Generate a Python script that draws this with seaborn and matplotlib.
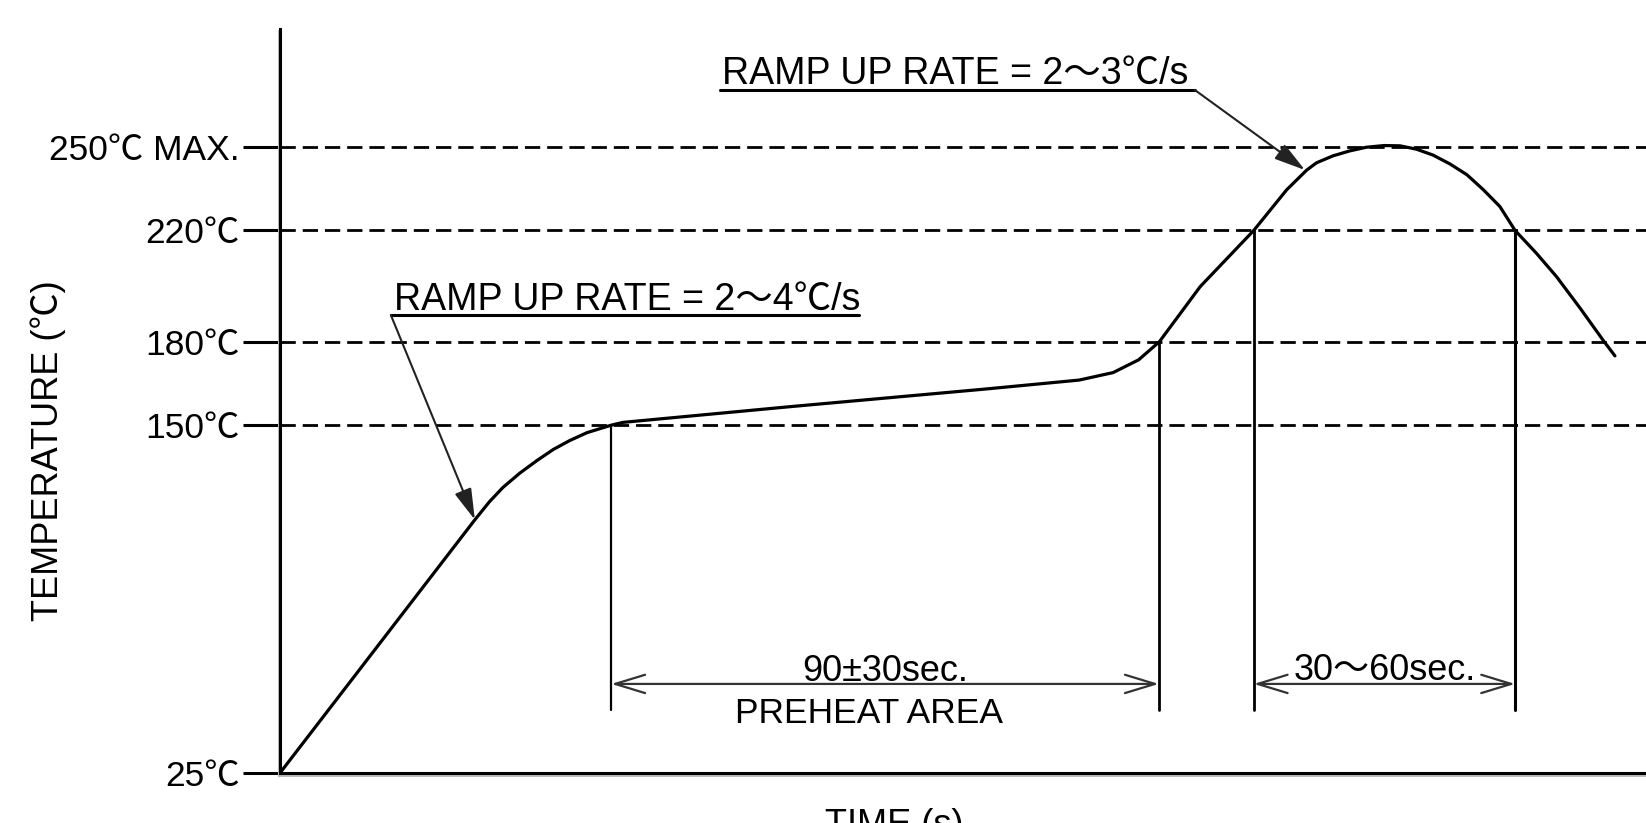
import matplotlib
matplotlib.use('Agg')
import matplotlib.pyplot as plt
import matplotlib.patheffects as pe
import pandas as pd
import seaborn as sns

# Reflow profile (time in s, temperature in degC)
time_s = [0, 32.0, 34.4, 36.6, 39.4, 42.2, 44.9, 47.6, 50.4, 54.4, 56.3, 84.0,
          115.4, 131.2, 136.8, 141.0, 144.4, 151.1, 159.9, 165.3, 168.6, 170.2,
          172.9, 175.7, 178.4, 181.3, 183.9, 186.6, 189.3, 192.1, 194.9, 197.6,
          200.3, 202.8, 206.3, 209.6, 213.5, 217.3, 219.2]
temp_c = [25, 116.0, 122.5, 127.6, 132.8, 137.3, 141.3, 144.5, 147.3, 150.0, 151.0, 156.7,
          162.9, 166.2, 168.9, 173.5, 180.0, 199.8, 220.0, 234.6, 241.7, 244.3,
          246.8, 248.6, 249.9, 250.5, 250.4, 249.2, 247.1, 243.9, 240.0, 234.6,
          228.6, 220.0, 211.8, 203.4, 192.0, 180.4, 174.9]

# Y ticks
tick_temps = [25, 150, 180, 220, 250]
tick_labels = ['25℃', '150℃', '180℃', '220℃', '250℃ MAX.']
guide_temps = [150, 180, 220, 250]

# Zone limits (time, s)
preheat_start, preheat_end = 54.4, 144.3
reflow_start, reflow_end = 159.9, 202.8

sns.set_theme(style='white')
plt.rcParams['font.family'] = ['Liberation Sans', 'Noto Sans CJK JP']
plt.rcParams['axes.unicode_minus'] = False

fig = plt.figure(figsize=(16.46, 8.23), dpi=100)
ax = fig.add_axes([0.1701, 0.0608, 0.8299, 0.904])

df = pd.DataFrame({'t': time_s, 'T': temp_c})
sns.lineplot(data=df, x='t', y='T', ax=ax, color='black', linewidth=2.3, sort=False)

# Dashed guide lines
for g in guide_temps:
    ax.axhline(g, color='black', linewidth=2.0, dashes=(5.5, 2.5), zorder=1)

ax.set_xlim(0, 224.3)
ax.set_ylim(25, 292.4)
ax.set_yticks(tick_temps)
ax.set_yticklabels(tick_labels, fontsize=25.5, color='black')
ax.set_xticks([])
ax.tick_params(axis='y', direction='out', length=27, width=2.2, color='black', pad=2, left=True)

for side in ['top', 'right']:
    ax.spines[side].set_visible(False)
for side in ['left', 'bottom']:
    ax.spines[side].set_color('black')
    ax.spines[side].set_linewidth(2.2)
    ax.spines[side].set_path_effects([
        pe.SimpleLineShadow(offset=(-1, -1.5), shadow_color='#bbbbbb', alpha=1),
        pe.Normal()])

ax.set_ylabel('TEMPERATURE (℃)', fontsize=26, color='black')
ax.yaxis.set_label_coords(-0.170, 0.433)
ax.yaxis.label.set_va('center')
ax.set_xlabel('TIME (s)', fontsize=26, color='black')
ax.xaxis.set_label_coords(0.450, -0.047)

# Vertical zone markers
dim_bottom = 47.6
ax.plot([preheat_start, preheat_start], [dim_bottom, 150], color='black', lw=1.6)
ax.plot([preheat_end, preheat_end], [dim_bottom, 180], color='black', lw=2.0)
ax.plot([reflow_start, reflow_start], [dim_bottom, 220], color='black', lw=2.0)
ax.plot([reflow_end, reflow_end], [dim_bottom, 220], color='black', lw=2.2)

# Dimension arrows
dim_y = 57.0
for a, b in [(preheat_start, preheat_end), (reflow_start, reflow_end)]:
    ax.annotate('', xy=(a, dim_y), xytext=(b, dim_y),
                arrowprops=dict(arrowstyle='<->,head_length=1.8,head_width=0.55',
                                color='#333333', lw=1.6, shrinkA=0, shrinkB=0))

ax.text((preheat_start + preheat_end) / 2, 58.1, '90±30sec.', fontsize=26,
        ha='center', va='baseline', color='black')
ax.text(96.7, 43.0, 'PREHEAT AREA', fontsize=25.5, ha='center', va='baseline', color='black')
ax.text((reflow_start + reflow_end) / 2, 58.4, '30～60sec.', fontsize=26,
        ha='center', va='baseline', color='black')

# Ramp-rate callouts
ax.text(18.7, 191.4, 'RAMP UP RATE = 2～4℃/s', fontsize=27, ha='left', va='baseline', color='black')
ax.plot([18.2, 95.1], [189.6, 189.6], color='black', lw=2.2)
ax.annotate('', xy=(32.0, 116.0), xytext=(18.2, 189.6),
            arrowprops=dict(arrowstyle='-|>,head_length=1.6,head_width=0.45',
                            color='#222222', lw=1.5, shrinkA=0, shrinkB=0))

ax.text(72.5, 272.7, 'RAMP UP RATE = 2～3℃/s', fontsize=27, ha='left', va='baseline', color='black')
ax.plot([72.2, 150.2], [270.5, 270.5], color='black', lw=2.2)
ax.annotate('', xy=(168.3, 241.7), xytext=(150.2, 270.5),
            arrowprops=dict(arrowstyle='-|>,head_length=1.6,head_width=0.45',
                            color='#222222', lw=1.5, shrinkA=0, shrinkB=0))

fig.savefig('out.png', dpi=100)
